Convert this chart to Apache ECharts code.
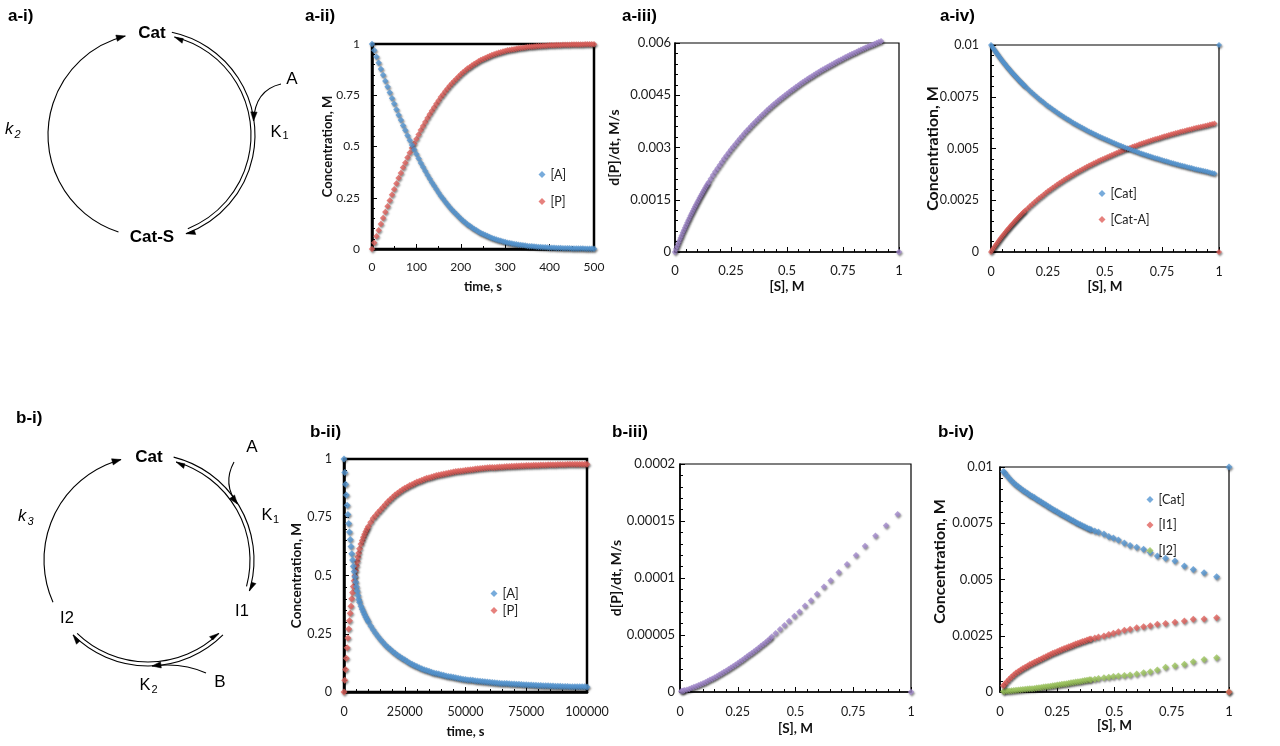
<!DOCTYPE html>
<html>
<head>
<meta charset="utf-8">
<title>Catalytic cycle kinetics</title>
<script src="https://cdn.jsdelivr.net/npm/echarts/dist/echarts.min.js"></script>
<style>
html,body{margin:0;padding:0;background:#fff;}
#chart{width:1280px;height:746px;}
</style>
</head>
<body>
<div id="chart"></div>
<script>
// ---------------- data ----------------
// a-ii : concentration vs time
const aiiTime = [0,5,10,15,20,25,30,35,40,45,50,55,60,65,70,75,80,85,90,95,
100,105,110,115,120,125,130,135,140,145,150,155,160,165,170,175,180,185,190,195,
200,205,210,215,220,225,230,235,240,245,250,255,260,265,270,275,280,285,290,295,
300,305,310,315,320,325,330,335,340,345,350,355,360,365,370,375,380,385,390,395,
400,405,410,415,420,425,430,435,440,445,450,455,460,465,470,475,480,485,490,495,500];
const aiiA = [1,0.969,0.938,0.908,0.878,0.849,0.819,0.791,0.763,0.735,
0.708,0.681,0.654,0.629,0.603,0.579,0.554,0.53,0.507,0.485,
0.463,0.441,0.42,0.4,0.38,0.361,0.343,0.325,0.308,0.291,
0.275,0.259,0.245,0.231,0.217,0.204,0.192,0.18,0.169,0.158,
0.148,0.138,0.129,0.12,0.113,0.105,0.098,0.091,0.084,0.078,
0.073,0.068,0.063,0.058,0.054,0.05,0.046,0.043,0.04,0.037,
0.034,0.031,0.029,0.027,0.025,0.023,0.021,0.019,0.018,0.017,
0.015,0.014,0.013,0.012,0.011,0.01,0.0094,0.0087,0.008,0.0073,
0.0067,0.0062,0.0057,0.0052,0.0048,0.0045,0.0042,0.0039,0.0035,0.0032,
0.0029,0.0027,0.0025,0.0023,0.0021,0.0019,0.0018,0.0017,0.0015,0.0014,0.0013];
const aiiP = [0,0.031,0.062,0.092,0.122,0.151,0.181,0.209,0.237,0.265,
0.292,0.319,0.346,0.371,0.397,0.421,0.446,0.47,0.493,0.515,
0.537,0.559,0.58,0.6,0.62,0.639,0.657,0.675,0.692,0.709,
0.725,0.741,0.755,0.769,0.783,0.796,0.808,0.82,0.831,0.842,
0.852,0.862,0.871,0.88,0.887,0.895,0.902,0.909,0.916,0.922,
0.927,0.932,0.937,0.942,0.946,0.95,0.954,0.957,0.96,0.963,
0.966,0.969,0.971,0.973,0.975,0.977,0.979,0.981,0.982,0.983,
0.985,0.986,0.987,0.988,0.989,0.99,0.9906,0.9913,0.992,0.9927,
0.9933,0.9938,0.9943,0.9948,0.9952,0.9955,0.9958,0.9961,0.9965,0.9968,
0.9971,0.9973,0.9975,0.9977,0.9979,0.9981,0.9982,0.9983,0.9985,0.9986,0.9987];

// a-iii : rate vs [S]
const aiiiS = [0,0.005,0.01,0.015,0.02,0.025,0.03,0.035,0.04,0.045,0.05,0.055,0.06,0.065,0.07,0.075,0.08,0.085,0.09,0.095,0.1,0.105,0.11,0.115,0.12,0.125,0.13,0.135,0.14,0.145,0.15,
0.16,0.17,0.18,0.19,0.2,0.21,0.22,0.23,0.24,0.25,
0.26,0.27,0.28,0.29,0.3,0.31,0.32,0.33,0.34,0.35,
0.36,0.37,0.38,0.39,0.4,0.41,0.42,0.43,0.44,0.45,
0.46,0.47,0.48,0.49,0.5,0.51,0.52,0.53,0.54,0.55,
0.56,0.57,0.58,0.59,0.6,0.61,0.62,0.63,0.64,0.65,
0.66,0.67,0.68,0.69,0.7,0.71,0.72,0.73,0.74,0.75,
0.76,0.77,0.78,0.79,0.8,0.81,0.82,0.83,0.84,0.85,
0.86,0.87,0.88,0.89,0.9,0.91,0.92,1];
const aiiiRate = [0,0.000083,0.000164,0.000244,0.000323,0.0004,0.000476,0.000551,0.000625,0.000698,0.000769,0.00084,0.000909,0.000977,0.001045,0.001111,0.001176,0.001241,0.001304,0.001367,0.001429,0.001489,0.001549,0.001608,0.001667,0.001724,0.001781,0.001837,0.001892,0.001946,0.002,
0.002105,0.002208,0.002308,0.002405,0.0025,0.002593,0.002683,0.002771,0.002857,0.002941,
0.003023,0.003103,0.003182,0.003258,0.003333,0.003407,0.003478,0.003548,0.003617,0.003684,
0.00375,0.003814,0.003878,0.003939,0.004,0.004059,0.004118,0.004175,0.004231,0.004286,
0.00434,0.004393,0.004444,0.004495,0.004545,0.004595,0.004643,0.00469,0.004737,0.004783,
0.004828,0.004872,0.004915,0.004958,0.005,0.005041,0.005082,0.005122,0.005161,0.0052,
0.005238,0.005276,0.005313,0.005349,0.005385,0.00542,0.005455,0.005489,0.005522,0.005556,
0.005588,0.00562,0.005652,0.005683,0.005714,0.005745,0.005775,0.005804,0.005833,0.005862,
0.00589,0.005918,0.005946,0.005973,0.006,0.006026,0.006053,0];

// a-iv : catalyst species vs [S]
const aivS = [0,0.005,0.01,0.015,0.02,0.025,0.03,0.035,0.04,0.045,0.05,0.055,0.06,0.065,0.07,0.075,0.08,0.085,0.09,0.095,0.1,0.105,0.11,0.115,0.12,0.125,0.13,0.135,0.14,0.145,0.15,
0.16,0.17,0.18,0.19,0.2,0.21,0.22,0.23,0.24,0.25,
0.26,0.27,0.28,0.29,0.3,0.31,0.32,0.33,0.34,0.35,
0.36,0.37,0.38,0.39,0.4,0.41,0.42,0.43,0.44,0.45,
0.46,0.47,0.48,0.49,0.5,0.51,0.52,0.53,0.54,0.55,
0.56,0.57,0.58,0.59,0.6,0.61,0.62,0.63,0.64,0.65,
0.66,0.67,0.68,0.69,0.7,0.71,0.72,0.73,0.74,0.75,
0.76,0.77,0.78,0.79,0.8,0.81,0.82,0.83,0.84,0.85,
0.86,0.87,0.88,0.89,0.9,0.91,0.92,0.93,0.94,0.95,
0.96,0.97,0.98,1];
const aivCat = [0.01,0.009917,0.009836,0.009756,0.009677,0.0096,0.009524,0.009449,0.009375,0.009302,0.009231,0.00916,0.009091,0.009023,0.008955,0.008889,0.008824,0.008759,0.008696,0.008633,0.008571,0.008511,0.008451,0.008392,0.008333,0.008276,0.008219,0.008163,0.008108,0.008054,0.008,
0.007895,0.007792,0.007692,0.007595,0.0075,0.007407,0.007317,0.007229,0.007143,0.007059,
0.006977,0.006897,0.006818,0.006742,0.006667,0.006593,0.006522,0.006452,0.006383,0.006316,
0.00625,0.006186,0.006122,0.006061,0.006,0.005941,0.005882,0.005825,0.005769,0.005714,
0.00566,0.005607,0.005556,0.005505,0.005455,0.005405,0.005357,0.00531,0.005263,0.005217,
0.005172,0.005128,0.005085,0.005042,0.005,0.004959,0.004918,0.004878,0.004839,0.0048,
0.004762,0.004724,0.004687,0.004651,0.004615,0.00458,0.004545,0.004511,0.004478,0.004444,
0.004412,0.00438,0.004348,0.004317,0.004286,0.004255,0.004225,0.004196,0.004167,0.004138,
0.00411,0.004082,0.004054,0.004027,0.004,0.003974,0.003947,0.003922,0.003896,0.003871,
0.003846,0.003822,0.003797,0.01];
const aivCatA = [0,0.000083,0.000164,0.000244,0.000323,0.0004,0.000476,0.000551,0.000625,0.000698,0.000769,0.00084,0.000909,0.000977,0.001045,0.001111,0.001176,0.001241,0.001304,0.001367,0.001429,0.001489,0.001549,0.001608,0.001667,0.001724,0.001781,0.001837,0.001892,0.001946,0.002,
0.002105,0.002208,0.002308,0.002405,0.0025,0.002593,0.002683,0.002771,0.002857,0.002941,
0.003023,0.003103,0.003182,0.003258,0.003333,0.003407,0.003478,0.003548,0.003617,0.003684,
0.00375,0.003814,0.003878,0.003939,0.004,0.004059,0.004118,0.004175,0.004231,0.004286,
0.00434,0.004393,0.004444,0.004495,0.004545,0.004595,0.004643,0.00469,0.004737,0.004783,
0.004828,0.004872,0.004915,0.004958,0.005,0.005041,0.005082,0.005122,0.005161,0.0052,
0.005238,0.005276,0.005313,0.005349,0.005385,0.00542,0.005455,0.005489,0.005522,0.005556,
0.005588,0.00562,0.005652,0.005683,0.005714,0.005745,0.005775,0.005804,0.005833,0.005862,
0.00589,0.005918,0.005946,0.005973,0.006,0.006026,0.006053,0.006078,0.006104,0.006129,
0.006154,0.006178,0.006203,0];

// b-ii : concentration vs time
const biiTime = [0,320,640,960,1280,1600,1920,2240,2560,2880,3200,3520,3840,4160,4480,4800,5120,5440,5760,6080,
6400,7000,7500,8000,8500,9000,9500,
10000,11000,12000,13000,14000,15000,16000,17000,18000,19000,
20000,21000,22000,23000,24000,25000,26000,27000,28000,29000,
30000,31000,32000,33000,34000,35000,36000,37000,38000,39000,
40000,41000,42000,43000,44000,45000,46000,47000,48000,49000,
50000,51000,52000,53000,54000,55000,56000,57000,58000,59000,
60000,61000,62000,63000,64000,65000,66000,67000,68000,69000,
70000,71000,72000,73000,74000,75000,76000,77000,78000,79000,
80000,81000,82000,83000,84000,85000,86000,87000,88000,89000,
90000,91000,92000,93000,94000,95000,96000,97000,98000,99000,100000];
const biiA = [1,0.942,0.892,0.846,0.801,0.762,0.723,0.687,0.655,0.625,0.593,0.566,0.54,0.517,0.495,0.472,0.452,0.433,0.414,0.397,
0.385,0.368,0.355,0.343,0.332,0.321,0.311,
0.301,0.283,0.267,0.252,0.238,0.225,0.213,0.202,0.192,0.183,
0.174,0.166,0.158,0.151,0.144,0.138,0.131,0.125,0.119,0.114,
0.109,0.104,0.1,0.096,0.092,0.089,0.085,0.082,0.079,0.077,
0.074,0.072,0.069,0.067,0.065,0.063,0.061,0.059,0.057,0.055,
0.054,0.052,0.051,0.05,0.048,0.047,0.046,0.045,0.044,0.043,
0.042,0.041,0.04,0.039,0.038,0.037,0.037,0.036,0.035,0.034,
0.034,0.033,0.033,0.032,0.031,0.031,0.03,0.03,0.029,0.029,
0.028,0.028,0.027,0.027,0.027,0.026,0.026,0.025,0.025,0.025,
0.024,0.024,0.024,0.023,0.023,0.023,0.022,0.022,0.022,0.022,0.021];
const biiP = [0,0.05,0.097,0.145,0.19,0.232,0.27,0.306,0.338,0.368,0.4,0.427,0.453,0.477,0.499,0.521,0.542,0.561,0.579,0.597,
0.615,0.635,0.65,0.664,0.677,0.689,0.7,
0.71,0.729,0.746,0.758,0.77,0.781,0.793,0.805,0.816,0.826,
0.836,0.845,0.853,0.861,0.868,0.874,0.88,0.886,0.891,0.896,
0.901,0.905,0.909,0.913,0.917,0.92,0.923,0.926,0.929,0.931,
0.934,0.936,0.938,0.94,0.942,0.944,0.946,0.947,0.949,0.95,
0.952,0.953,0.954,0.955,0.957,0.958,0.959,0.96,0.961,0.962,
0.963,0.963,0.964,0.965,0.966,0.966,0.967,0.968,0.968,0.969,
0.969,0.97,0.97,0.971,0.971,0.972,0.972,0.972,0.973,0.973,
0.973,0.974,0.974,0.974,0.975,0.975,0.975,0.975,0.976,0.976,
0.976,0.976,0.977,0.977,0.977,0.977,0.977,0.978,0.978,0.978,0.978];

// b-iii : rate vs [S]
const biiiS = [0.005,0.01,0.015,
0.02,0.03,0.04,0.05,0.06,0.07,0.08,0.09,0.1,
0.11,0.12,0.13,0.14,0.15,0.16,0.17,0.18,0.19,0.2,
0.21,0.22,0.23,0.24,0.25,0.26,0.27,0.28,0.29,0.3,
0.31,0.32,0.33,0.34,0.35,0.36,0.37,0.38,0.39,
0.397,0.414,0.433,0.452,0.472,0.495,0.517,0.541,0.567,0.593,0.623,0.652,0.687,0.723,0.762,0.801,0.846,0.892,0.942,1];
const biiiRate = [0.6e-6,0.9e-6,1.2e-6,
1.5e-6,2.0e-6,2.7e-6,3.5e-6,4.3e-6,5.0e-6,5.9e-6,6.7e-6,7.6e-6,
8.6e-6,9.6e-6,10.7e-6,11.7e-6,12.8e-6,13.9e-6,15.1e-6,16.3e-6,17.5e-6,18.7e-6,
19.9e-6,21.2e-6,22.5e-6,23.9e-6,25.3e-6,26.7e-6,28.1e-6,29.6e-6,31.1e-6,32.6e-6,
34.1e-6,35.6e-6,37.1e-6,38.7e-6,40.3e-6,41.9e-6,43.5e-6,45.1e-6,46.7e-6,
48.4e-6,51.6e-6,55.1e-6,58.5e-6,62.3e-6,66.7e-6,70.5e-6,75.7e-6,80.3e-6,86.0e-6,92.4e-6,97.7e-6,105e-6,112e-6,120e-6,128e-6,137e-6,146e-6,156e-6,0];

// b-iv : catalyst species vs [S]
const bivS = [0.015,
0.02,0.03,0.04,0.05,0.06,0.07,0.08,0.09,0.1,
0.11,0.12,0.13,0.14,0.15,0.16,0.17,0.18,0.19,0.2,
0.21,0.22,0.23,0.24,0.25,0.26,0.27,0.28,0.29,0.3,
0.31,0.32,0.33,0.34,0.35,0.36,0.37,0.38,0.39,
0.397,0.414,0.43,0.454,0.475,0.495,0.517,0.543,0.568,0.597,0.627,0.656,0.687,0.723,0.764,0.805,0.844,0.891,0.946,1];
const bivCat = [0.0098,
0.00974,0.00962,0.0095,0.00939,0.00929,0.0092,0.00912,0.00904,0.00897,
0.0089,0.00883,0.00876,0.0087,0.00864,0.00857,0.00851,0.00845,0.00838,0.00832,
0.00825,0.00819,0.00812,0.00807,0.00801,0.00795,0.00789,0.00783,0.00778,0.00772,
0.00766,0.00761,0.00755,0.00749,0.00745,0.00739,0.00734,0.00729,0.00724,
0.00722,0.00716,0.00711,0.00702,0.00691,0.00685,0.00676,0.00662,0.00651,0.00643,0.00634,0.0062,0.00605,0.00594,0.00582,0.0056,0.00545,0.0053,0.00512,0.01];
const bivI1 = [0.00028,
0.00035,0.00046,0.00057,0.00067,0.00076,0.00084,0.00091,0.00098,0.00104,
0.0011,0.00116,0.00122,0.00127,0.00132,0.00137,0.00142,0.00147,0.00152,0.00157,
0.00162,0.00167,0.00172,0.00176,0.0018,0.00185,0.00189,0.00193,0.00197,0.00201,
0.00205,0.00209,0.00213,0.00217,0.0022,0.00224,0.00227,0.00231,0.00234,
0.00236,0.0024,0.00244,0.00249,0.00256,0.00261,0.00268,0.00274,0.00279,0.00286,0.0029,0.00295,0.00301,0.00305,0.0031,0.00316,0.00323,0.00324,0.0033,0];
const bivI2 = [0.00002,
0.00003,0.00004,0.00005,0.00006,0.00007,0.00008,0.00009,0.0001,0.00011,
0.00012,0.00013,0.00014,0.00015,0.00016,0.00018,0.00019,0.0002,0.00022,0.00023,
0.00025,0.00026,0.00028,0.00029,0.00031,0.00032,0.00034,0.00036,0.00037,0.00039,
0.00041,0.00042,0.00044,0.00046,0.00047,0.00049,0.00051,0.00052,0.00054,
0.00055,0.00057,0.0006,0.00063,0.00066,0.00069,0.00071,0.00073,0.00076,0.0008,0.00086,0.0009,0.00098,0.0011,0.00117,0.00123,0.00135,0.00145,0.00152,0];

// ---------------- styling / layout ----------------
const FONT = 'Lato, "Open Sans", "DejaVu Sans", sans-serif';
const DFONT = '"Liberation Sans", Arial, Helvetica, sans-serif';
const COL = {blue:'#5596D2', red:'#E0625D', green:'#9CC45E', purple:'#A389CC'};

const panels = [
  {grid:{left:372, top:44, width:222, height:205}, lw:2.5, bw:2.5,
   x:{min:0,max:500,interval:100,minor:2,name:'time, s',nameGap:31,nameSize:13,margin:12,size:12},
   y:{min:0,max:1,interval:0.25,minor:5,name:'Concentration, M',nameGap:38,nameSize:13,margin:12,size:12}},
  {grid:{left:675, top:43, width:224, height:209}, lw:1.6, bw:1.2,
   x:{min:0,max:1,interval:0.25,minor:5,name:'[S], M',nameGap:28,nameSize:13.5,margin:12,size:13},
   y:{min:0,max:0.006,interval:0.0015,minor:5,name:'d[P]/dt, M/s',nameGap:54,nameSize:14,margin:4,size:13}},
  {grid:{left:991, top:45, width:228, height:207}, lw:1.6, bw:1.2,
   x:{min:0,max:1,interval:0.25,minor:5,name:'[S], M',nameGap:28,nameSize:13.5,margin:13,size:12.5},
   y:{min:0,max:0.01,interval:0.0025,minor:5,name:'Concentration, M',nameGap:50,nameSize:16,margin:12,size:12.5}},
  {grid:{left:344, top:459, width:243, height:233}, lw:2.5, bw:2.5,
   x:{min:0,max:100000,interval:25000,minor:5,name:'time, s',nameGap:33,nameSize:13,margin:13,size:12.5},
   y:{min:0,max:1,interval:0.25,minor:5,name:'Concentration, M',nameGap:40,nameSize:13.5,margin:12,size:12.5}},
  {grid:{left:680, top:464, width:231, height:228}, lw:1.6, bw:1.2,
   x:{min:0,max:1,interval:0.25,minor:5,name:'[S], M',nameGap:30,nameSize:13.5,margin:13,size:12.5},
   y:{min:0,max:0.0002,interval:0.00005,minor:5,name:'d[P]/dt, M/s',nameGap:57,nameSize:14,margin:5,size:13}},
  {grid:{left:1000, top:467, width:229, height:225}, lw:1.6, bw:1.2,
   x:{min:0,max:1,interval:0.25,minor:5,name:'[S], M',nameGap:27,nameSize:13.5,margin:13,size:13},
   y:{min:0,max:0.01,interval:0.0025,minor:5,name:'Concentration, M',nameGap:52,nameSize:16,margin:7,size:13,namePad:[0,0,0,36]}}
];

function fmt(v){ return String(+(+v).toPrecision(6)); }
function axis(i, a, lw){
  return {
    type:'value', gridIndex:i, min:a.min, max:a.max, interval:a.interval,
    name:a.name, nameLocation:'middle', nameGap:a.nameGap, nameMoveOverlap:false,
    nameTextStyle:{fontFamily:FONT, fontWeight:'bold', fontSize:a.nameSize, color:'#111', padding:a.namePad||0},
    axisLine:{show:true, onZero:false, lineStyle:{color:'#000', width:lw}},
    axisTick:{show:true, inside:true, length:5, lineStyle:{color:'#000', width:1}},
    minorTick:{show:true, splitNumber:a.minor, length:3, lineStyle:{color:'#000', width:1}},
    axisLabel:{fontFamily:FONT, fontSize:a.size, color:'#1a1a1a', margin:a.margin, formatter:fmt, hideOverlap:false},
    splitLine:{show:false}, minorSplitLine:{show:false}
  };
}
function pts(xs, ys){ return xs.map(function(x,i){ return [x, ys[i]]; }); }
function sc(name, idx, xs, ys, color, size){
  return {type:'scatter', name:name, xAxisIndex:idx, yAxisIndex:idx, data:pts(xs,ys),
    symbol:'diamond', symbolSize:size, clip:false, silent:true,
    itemStyle:{color:color, shadowColor:'rgba(0,0,0,0.55)', shadowBlur:2, shadowOffsetX:1, shadowOffsetY:1.5},
    emphasis:{disabled:true}};
}
function lg(names, left, top, gap, size){
  return {data:names.map(function(n){return {name:n, icon:'diamond'};}), orient:'vertical', left:left, top:top,
    itemGap:gap, itemWidth:7, itemHeight:7, padding:0, selectedMode:false,
    textStyle:{fontFamily:FONT, fontSize:size, color:'#222'}};
}

// ---------------- diagram helpers (graphic elements) ----------------
const DEG = Math.PI/180;
function arcEl(cx,cy,r,a0,a1){
  return {type:'arc', silent:true, shape:{cx:cx,cy:cy,r:r,startAngle:a0*DEG,endAngle:a1*DEG,clockwise:true},
    style:{stroke:'#000', fill:'none', lineWidth:1.1}};
}
function poly(p){ return {type:'polygon', silent:true, shape:{points:p}, style:{fill:'#000', stroke:'#000', lineWidth:0.5}}; }
function arcHead(cx,cy,r,a,dir,barb){
  const t=a*DEG, ux=Math.cos(t), uy=Math.sin(t);
  const x=cx+r*ux, y=cy+r*uy, dx=-uy*dir, dy=ux*dir, L=9, w=3.2;
  const bx=x-L*dx, by=y-L*dy;
  if(!barb) return poly([[x,y],[bx+w*ux,by+w*uy],[bx-w*ux,by-w*uy]]);
  return poly([[x,y],[bx+barb*w*1.3*ux,by+barb*w*1.3*uy],[bx-barb*0.6*ux,by-barb*0.6*uy]]);
}
function curve(x1,y1,cx,cy,x2,y2){
  const els=[{type:'bezierCurve', silent:true, shape:{x1:x1,y1:y1,cpx1:cx,cpy1:cy,x2:x2,y2:y2}, style:{stroke:'#000',fill:'none',lineWidth:1.1}}];
  let dx=x2-cx, dy=y2-cy; const n=Math.hypot(dx,dy); dx/=n; dy/=n;
  const L=9, w=3.2, bx=x2-L*dx, by=y2-L*dy;
  els.push(poly([[x2,y2],[bx-w*dy,by+w*dx],[bx+w*dy,by-w*dx]]));
  return els;
}
function txt(x,y,s,size,o){
  o=o||{};
  return {type:'text', silent:true, x:x, y:y, style:{text:s, fontSize:size, fontFamily:o.font||DFONT,
    fontWeight:o.bold?'bold':'normal', fontStyle:o.italic?'italic':'normal', fill:'#000',
    align:o.align||'center', verticalAlign:'middle', textAlign:o.align||'center', textVerticalAlign:'middle'}};
}

let gfx = [];
// panel titles
[['a-i)',8,16],['a-ii)',305,16],['a-iii)',622,16],['a-iv)',940,16],
 ['b-i)',16,418],['b-ii)',310,432],['b-iii)',612,432],['b-iv)',938,432]].forEach(function(t){
  gfx.push(txt(t[1],t[2],t[0],17,{bold:true,align:'left'}));
});
// a-i cycle
gfx.push(arcEl(150,135,102,108,256), arcHead(150,135,102,256,1,0));
gfx.push(arcEl(150,135,105,-78,70), arcHead(150,135,105,70,1,1));
gfx.push(arcEl(150,135,101,-76,68), arcHead(150,135,101,-76,-1,-1));
gfx = gfx.concat(curve(281,84,255,90,253.5,121));
gfx.push(txt(152,33,'Cat',17,{bold:true}), txt(152,237,'Cat-S',17,{bold:true}), txt(292,79,'A',17),
  txt(276,132,'K',16.5), txt(285.5,136,'1',11), txt(9,129,'k',16.5,{italic:true}), txt(17.5,135,'2',11,{italic:true}));
// b-i cycle
gfx.push(arcEl(148,560,104,156,255), arcHead(148,560,104,255,1,0));
gfx.push(arcEl(148,560,106,-76,17), arcHead(148,560,106,17,1,1));
gfx.push(arcEl(148,560,102,-74,15), arcHead(148,560,102,-74,-1,-1));
gfx.push(arcEl(148,560,106,45,135), arcHead(148,560,106,135,1,1));
gfx.push(arcEl(148,560,102,46,134), arcHead(148,560,102,46,-1,-1));
gfx = gfx.concat(curve(234,462,222,484,237.5,504));
gfx = gfx.concat(curve(206,673,182,662,152,666));
gfx.push(txt(149,457,'Cat',17,{bold:true}), txt(252,447,'A',17), txt(267,515,'K',16.5), txt(276,520,'1',11),
  txt(242,611,'I1',16.5), txt(67,618,'I2',16.5), txt(145,685,'K',16.5), txt(154.5,690,'2',11), txt(220,682,'B',17),
  txt(22,516,'k',16.5,{italic:true}), txt(30.5,522,'3',11,{italic:true}));

// ---------------- option ----------------
const option = {
  animation:false,
  backgroundColor:'#fff',
  textStyle:{fontFamily:FONT},
  grid: panels.map(function(p){ return Object.assign({show:true, borderColor:'#000', borderWidth:p.bw,
    backgroundColor:'transparent', containLabel:false, outerBoundsMode:'none'}, p.grid); }),
  xAxis: panels.map(function(p,i){ return axis(i,p.x,p.lw); }),
  yAxis: panels.map(function(p,i){ return axis(i,p.y,p.lw); }),
  legend:[
    lg(['[A]','[P]'], 538.5, 168, 14, 12.5),
    lg(['[Cat]','[Cat-A]'], 1098.5, 187, 13, 12.5),
    lg(['[A]','[P]'], 490.5, 587, 4, 13),
    lg(['[Cat]','[I1]','[I2]'], 1146.5, 493, 12.5, 12.5)
  ],
  series:[
    sc('[P]',0,aiiTime,aiiP,COL.red,6.5),
    sc('[A]',0,aiiTime,aiiA,COL.blue,6.5),
    sc('d[P]/dt',1,aiiiS,aiiiRate,COL.purple,6.5),
    sc('[Cat-A]',2,aivS,aivCatA,COL.red,6),
    sc('[Cat]',2,aivS,aivCat,COL.blue,6),
    sc('[P]',3,biiTime,biiP,COL.red,7),
    sc('[A]',3,biiTime,biiA,COL.blue,7),
    sc('d[P]/dt ',4,biiiS,biiiRate,COL.purple,6.5),
    sc('[I2]',5,bivS,bivI2,COL.green,7),
    sc('[I1]',5,bivS,bivI1,COL.red,7),
    sc('[Cat]',5,bivS,bivCat,COL.blue,7)
  ],
  graphic:{elements:gfx}
};
const chart = echarts.init(document.getElementById('chart'), null, {renderer:'canvas'});
chart.setOption(option);
</script>
</body>
</html>
